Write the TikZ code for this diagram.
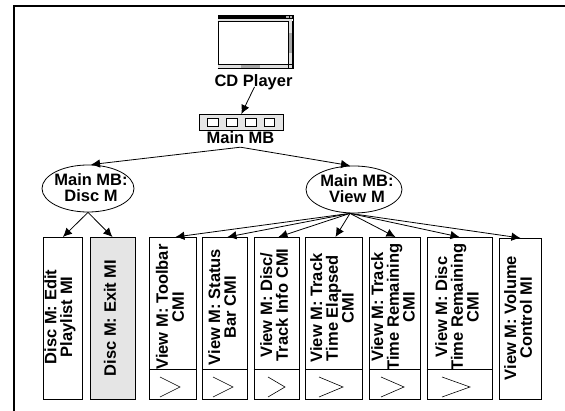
\documentclass[tikz,border=0pt]{standalone}
\usepackage{fontspec}
\setmainfont{Liberation Sans}
\usetikzlibrary{arrows.meta,shapes.geometric}
\tikzset{
  every node/.style={font=\bfseries\fontsize{16.5}{15.8}\selectfont},
  frameline/.style={line width=2pt},
  boxnode/.style={draw,line width=0.9pt,rectangle,inner sep=0pt,anchor=north west},
  vtext/.style={rotate=90,align=center,inner sep=0pt},
  ell/.style={draw,line width=0.8pt,ellipse,inner sep=0pt},
  elltext/.style={align=center,inner sep=0pt},
  conn/.style={line width=0.8pt,-{Latex[length=9pt,width=8.5pt]}},
  cut/.style={line width=0.9pt},
  chev/.style={line width=0.6pt},
  btn/.style={draw,line width=0.8pt,fill=white,rectangle,inner sep=0pt,anchor=north west,minimum width=10.5pt,minimum height=8pt}
}
\begin{document}
\begin{tikzpicture}[x=1pt,y=-1pt]
\useasboundingbox (0,0) rectangle (565,411);
% frame
\draw[frameline] (13.5,411) -- (13.5,6.5) -- (565,6.5);
% window
\node[draw,line width=0.8pt,rectangle,inner sep=0pt,anchor=north west,minimum width=75pt,minimum height=53pt] (win) at (217.5,15) {};
\fill (217.5,15) rectangle (292.5,19.5);
\fill[gray!60] (286,16) rectangle (288.5,18.5);
\fill[gray!60] (289.5,16) rectangle (292,18.5);
\fill[gray!25] (218,19.5) rectangle (292,21.5);
\draw[line width=0.6pt] (217.5,21.5) -- (292.5,21.5);
\fill[gray!25] (288.5,21.5) rectangle (292.5,68);
\fill[gray!25] (217.5,64) rectangle (292.5,68);
\fill[gray!70] (288.5,33) rectangle (292.5,53);
\fill[gray!70] (241,64) rectangle (260,68);
\draw[line width=0.6pt] (288.5,21.5) -- (288.5,68) (217.5,64) -- (292.5,64) (217.5,68) -- (292.5,68) (292.5,21.5) -- (292.5,68);
\node[inner sep=0pt] (cdp) at (253.5,82) {CD Player};
% menubar
\node[boxnode,fill=black!10,line width=0.7pt,minimum width=84pt,minimum height=16pt] (mb) at (199,114) {};
\node[btn] (b1) at (207,118) {};
\node[btn] (b2) at (226,118) {};
\node[btn] (b3) at (245,118) {};
\node[btn] (b4) at (263.5,118) {};
\node[inner sep=0pt,minimum height=18pt] (mmb) at (240.5,138) {Main MB};
\draw[conn] ([xshift=1pt,yshift=3pt]cdp.south) -- (mb.north);
% ellipses
\node[ell,minimum width=92pt,minimum height=47pt] (dm) at (88,188.5) {};
\node[elltext] (dmt) at (91,188) {Main MB:\\Disc M};
\node[ell,minimum width=96pt,minimum height=47pt] (vm) at (354,189.5) {};
\node[elltext] (vmt) at (357,189) {Main MB:\\View M};
\draw[conn] (mmb.south) -- ([xshift=3pt]dm.north);
\draw[conn] (mmb.south) -- ([xshift=-4pt]vm.north);
% boxes
\node[boxnode,minimum width=39pt,minimum height=162pt] (b-edit) at (42.5,237) {};
\node[boxnode,fill=black!10,minimum width=45pt,minimum height=162pt] (b-exit) at (89.5,237) {};
\node[boxnode,minimum width=47pt,minimum height=162pt] (b-tool) at (149,237) {};
\node[boxnode,minimum width=45pt,minimum height=162pt] (b-stat) at (202,237) {};
\node[boxnode,minimum width=45pt,minimum height=162pt] (b-disc) at (253.5,237) {};
\node[boxnode,minimum width=57pt,minimum height=162pt] (b-elap) at (305,237) {};
\node[boxnode,minimum width=51pt,minimum height=162pt] (b-trem) at (369,237) {};
\node[boxnode,minimum width=65pt,minimum height=162pt] (b-drem) at (426.5,237) {};
\node[boxnode,minimum width=42pt,minimum height=161pt] (b-vol) at (499,238) {};
% dividers and chevrons
\foreach \b/\xa/\xb in {tool/160/180,stat/213/233,disc/268/285,elap/319/343,trem/381/404,drem/442/470}{
  \draw[cut] (b-\b.west |- 0,369) -- (b-\b.east |- 0,369);
  \draw[chev] (\xa,377) -- (\xb,387) -- (\xa,397);
}
% labels
\node[vtext] (t-edit) at (60,317) {Disc M: Edit\\Playlist MI};
\node[vtext] (t-exit) at (110,318) {Disc M: Exit MI};
\node[vtext] (t-tool) at (170,307) {View M: Toolbar\\CMI};
\node[vtext] (t-stat) at (222,307) {View M: Status\\Bar CMI};
\node[vtext] (t-disc) at (274,305) {View M: Disc/\\Track Info CMI};
\node[vtext] (t-elap) at (332,308) {View M: Track\\Time Elapsed\\CMI};
\node[vtext] (t-trem) at (393,307) {View M: Track\\Time Remaining\\CMI};
\node[vtext] (t-drem) at (457,307) {View M: Disc\\Time Remaining\\CMI};
\node[vtext] (t-vol) at (518,318) {View M: Volume\\Control MI};
% connectors
\coordinate (vs) at ([xshift=-4pt]vm.south);
\draw[conn] (dm.south) -- ([xshift=0.5pt]b-edit.north);
\draw[conn] (dm.south) -- (b-exit.north);
\draw[conn] (vs) -- ([xshift=2.5pt]b-tool.north);
\draw[conn] (vs) -- ([xshift=2.5pt]b-stat.north);
\draw[conn] (vs) -- ([xshift=2pt]b-disc.north);
\draw[conn] (vs) -- ([xshift=1.5pt]b-elap.north);
\draw[conn] (vs) -- ([xshift=0.5pt]b-trem.north);
\draw[conn] (vs) -- (b-drem.north);
\draw[conn] (vs) -- (b-vol.north);
\end{tikzpicture}
\end{document}
